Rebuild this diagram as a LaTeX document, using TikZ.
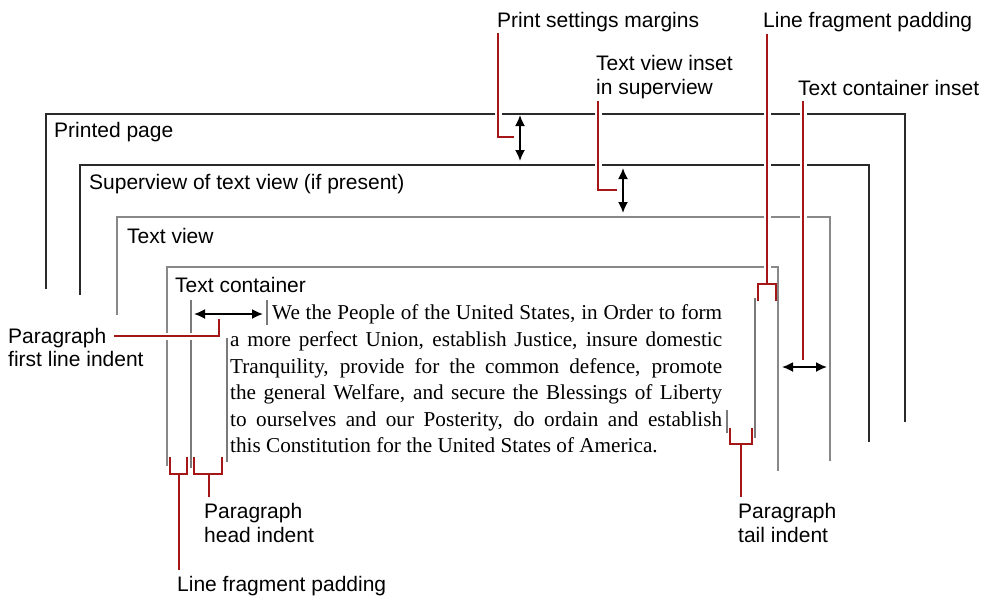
\documentclass[tikz,border=0pt]{standalone}
\usepackage{fontspec}
\setmainfont{Liberation Serif}
\setsansfont{Liberation Sans}
\usetikzlibrary{arrows.meta}
\definecolor{dimred}{HTML}{A51616}
\definecolor{boxdark}{HTML}{2A2A2A}
\definecolor{boxgray}{HTML}{888888}
\definecolor{bargray}{HTML}{7A7A7A}
\begin{document}
\begin{tikzpicture}[x=1pt,y=-1pt,
  lab/.style={anchor=base west, inner sep=0pt, font=\sffamily\fontsize{21}{24}\selectfont},
  para/.style={anchor=base west, inner sep=0pt, font=\rmfamily\fontsize{21.2}{26}\selectfont},
  darkbox/.style={draw=boxdark, line width=1.6pt},
  graybox/.style={draw=boxgray, line width=2.2pt},
  bar/.style={draw=bargray, line width=2pt},
  leader/.style={draw=dimred, line width=1.8pt, preaction={draw=white, line width=7pt}},
  bracket/.style={draw=dimred, line width=1.8pt},
  dimarrow/.style={{Latex[length=11pt,width=10pt]}-{Latex[length=11pt,width=10pt]}, line width=1.7pt, black}]
\useasboundingbox (0,0) rectangle (983,598);

% nested boxes (open at bottom)
\draw[darkbox] (46,289) |- (905,114) -- (905,422);
\draw[darkbox] (80,295) |- (869,165) -- (869,442);
\draw[graybox] (117,315) |- (830,217) -- (830,461);
\draw[graybox] (167,466) |- (778,267) -- (778,471);

% box labels
\node[lab] (pp) at (54,137) {Printed page};
\node[lab] (sv) at (89,189) {Superview of text view (if present)};
\node[lab] (tv) at (127,243) {Text view};
\node[lab] (tc) at (175,292) {Text container};

% paragraph text
\node[para] (l1) at (272,319) {\makebox[450pt][s]{We the People of the United States, in Order to form}};
\node[para] (l2) at (230,346) {\makebox[492pt][s]{a more perfect Union, establish Justice, insure domestic}};
\node[para] (l3) at (230,373) {\makebox[492pt][s]{Tranquility, provide for the common defence, promote}};
\node[para] (l4) at (230,399) {\makebox[492pt][s]{the general Welfare, and secure the Blessings of Liberty}};
\node[para] (l5) at (230,426) {\makebox[492pt][s]{to ourselves and our Posterity, do ordain and establish}};
\node[para] (l6) at (230,452) {this Constitution for the United States of America.};

% gray guide bars
\draw[bar] (190.5,300) -- (190.5,468);
\draw[bar] (227,338) -- (227,462);
\draw[bar] (267,300) -- (267,325);
\draw[bar] (755,298) -- (755,438);
\draw[bar] (727,410) -- (727,433);

% dimension arrows
\coordinate (psA) at (520,115); \coordinate (psB) at (520,161);
\coordinate (tvA) at (623,168); \coordinate (tvB) at (623,213);
\coordinate (fiA) at (194,314); \coordinate (fiB) at (263,314);
\coordinate (ciA) at (782,367); \coordinate (ciB) at (827,367);
\draw[dimarrow] (psA) -- (psB);
\draw[dimarrow] (tvA) -- (tvB);
\draw[dimarrow] (fiA) -- (fiB);
\draw[dimarrow] (ciA) -- (ciB);

% top labels
\node[lab] (psl) at (497,27) {Print settings margins};
\node[lab] (lfl) at (763,27) {Line fragment padding};
\node[lab] (tvl1) at (596,70) {Text view inset};
\node[lab] (tvl2) at (596,94) {in superview};
\node[lab] (cil) at (798,95) {Text container inset};

% left / bottom labels
\node[lab] (fll1) at (8,343) {Paragraph};
\node[lab] (fll2) at (8,366) {first line indent};
\node[lab] (hil1) at (204,518) {Paragraph};
\node[lab] (hil2) at (204,542) {head indent};
\node[lab] (lfb) at (177,591) {Line fragment padding};
\node[lab] (til1) at (738,518) {Paragraph};
\node[lab] (til2) at (738,542) {tail indent};

% red leaders
\draw[leader] (498,33) -- (498,137) -- (514,137);
\draw[leader] (598,101) -- (598,190) -- (617,190);
\draw[leader] (767,34) -- (767,284);
\draw[leader] (803,101) -- (803,360);
\draw[leader] (114,336) -- (219,336) -- (219,319);
\draw[leader] (179,474) -- (179,570);
\draw[leader] (209,474) -- (209,497);
\draw[leader] (741,444) -- (741,497);

% red brackets
\draw[bracket] (170,457) -- (170,474) -- (187,474) -- (187,457);
\draw[bracket] (194,457) -- (194,474) -- (222,474) -- (222,457);
\draw[bracket] (758,301) -- (758,284) -- (776,284) -- (776,301);
\draw[bracket] (730,428) -- (730,444) -- (752,444) -- (752,428);
\end{tikzpicture}
\end{document}
